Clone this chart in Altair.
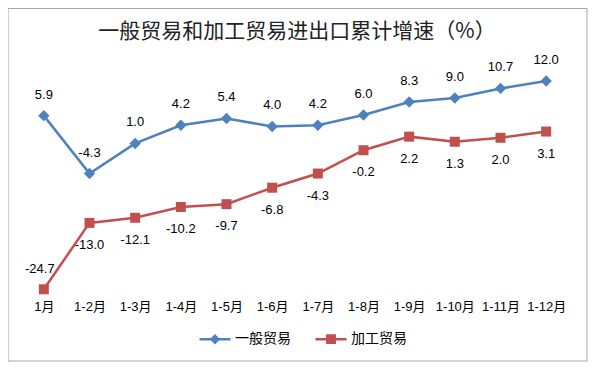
import altair as alt
import pandas as pd

months = ["1月", "1-2月", "1-3月", "1-4月", "1-5月", "1-6月", "1-7月", "1-8月", "1-9月", "1-10月", "1-11月", "1-12月"]
general = [5.9, -4.3, 1.0, 4.2, 5.4, 4.0, 4.2, 6.0, 8.3, 9.0, 10.7, 12.0]
processing = [-24.7, -13.0, -12.1, -10.2, -9.7, -6.8, -4.3, -0.2, 2.2, 1.3, 2.0, 3.1]
series_names = ["一般贸易", "加工贸易"]
colors = ["#4F81BD", "#C0504D"]
title_text = "一般贸易和加工贸易进出口累计增速（%）"

rows = []
for i, m in enumerate(months):
    rows.append({"月份": m, "idx": i, "系列": series_names[0], "值": general[i], "标签": f"{general[i]:.1f}"})
    rows.append({"月份": m, "idx": i, "系列": series_names[1], "值": processing[i], "标签": f"{processing[i]:.1f}"})
df = pd.DataFrame(rows)

FONT = "Liberation Sans, Noto Sans CJK SC"

x = alt.X("月份:N", sort=months,
          axis=alt.Axis(title=None, labelAngle=0, ticks=False, domain=False, labelPadding=9,
                        labelFont=FONT, labelFontSize=13, labelColor="#000000"))
y = alt.Y("值:Q", scale=alt.Scale(domain=[-25, 15], nice=False, zero=False), axis=None)
color = alt.Color("系列:N", scale=alt.Scale(domain=series_names, range=colors), legend=None)

base = alt.Chart(df)

lines = base.mark_line(strokeWidth=2.5).encode(x=x, y=y, color=color, detail="系列:N")
points = base.mark_point(filled=True, opacity=1).encode(
    x=x, y=y, color=color,
    shape=alt.Shape("系列:N", scale=alt.Scale(domain=series_names, range=["diamond", "square"]), legend=None),
    size=alt.Size("系列:N", scale=alt.Scale(domain=series_names, range=[130, 100]), legend=None),
)

legend_paths = [
    "M-1,0L1,0M0,-0.22L0.22,0L0,0.22L-0.22,0Z",
    "M-1,0L1,0M-0.24,-0.24L0.24,-0.24L0.24,0.24L-0.24,0.24Z",
]
leg_props = dict(title=None, orient="none", legendX=177, legendY=258, padding=0,
                 direction="horizontal", symbolSize=961, symbolStrokeWidth=2.5,
                 labelFont=FONT, labelFontSize=14, labelColor="#000000",
                 columnPadding=19, labelOffset=3)
legend_layer = base.mark_point(clip=True, opacity=1, strokeWidth=2.5).encode(
    x=x, y=alt.value(-2000),
    fill=alt.Fill("系列:N", scale=alt.Scale(domain=series_names, range=colors), legend=alt.Legend(**leg_props)),
    stroke=alt.Stroke("系列:N", scale=alt.Scale(domain=series_names, range=colors), legend=alt.Legend(**leg_props)),
    shape=alt.Shape("系列:N", scale=alt.Scale(domain=series_names, range=legend_paths), legend=alt.Legend(**leg_props)),
)

text_style = dict(font=FONT, fontSize=13, color="#000000", baseline="middle")
labels_general = base.transform_filter(alt.datum["系列"] == series_names[0]).mark_text(dy=-21, **text_style).encode(
    x=x, y=y, text="标签:N")
labels_proc_first = base.transform_filter((alt.datum["系列"] == series_names[1]) & (alt.datum.idx == 0)).mark_text(
    dy=-20, dx=-4, **text_style).encode(x=x, y=y, text="标签:N")
labels_proc = base.transform_filter((alt.datum["系列"] == series_names[1]) & (alt.datum.idx > 0)).mark_text(
    dy=22, **text_style).encode(x=x, y=y, text="标签:N")

frame = alt.Chart(pd.DataFrame({"a": [0]})).mark_rect(fill=None, stroke="#A6A6A6", strokeWidth=1).encode(
    x=alt.value(-13), x2=alt.value(566), y=alt.value(-55.5), y2=alt.value(297))

title = alt.Chart(pd.DataFrame({"t": [title_text]})).mark_text(
    font="Noto Sans CJK SC", fontSize=21, color="#222222", baseline="middle", align="center").encode(
    x=alt.value(276), y=alt.value(-32), text="t:N")

chart = alt.layer(frame, title, lines, points, legend_layer, labels_general, labels_proc_first, labels_proc).resolve_scale(
    shape="independent", size="independent", color="independent", fill="independent", stroke="independent"
).properties(
    width=548, height=227,
    autosize=alt.AutoSizeParams(type="none"),
    padding={"left": 13, "top": 56, "right": 20, "bottom": 75},
).configure_view(stroke=None)

chart.save("out.html", embed_options={"renderer": "svg", "actions": False})
